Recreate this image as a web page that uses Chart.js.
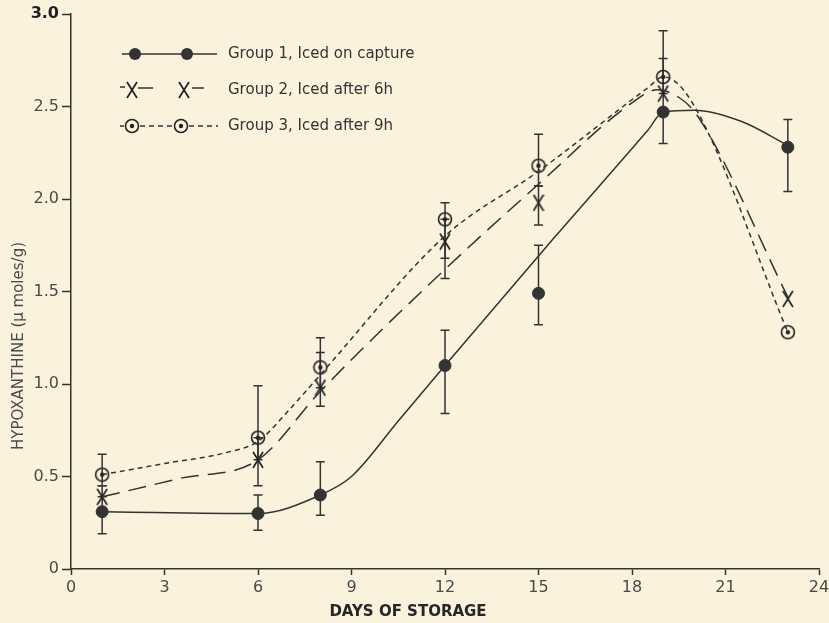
<!DOCTYPE html>
<html>
<head>
<meta charset="utf-8">
<script src="https://cdn.jsdelivr.net/npm/chart.js@4/dist/chart.umd.min.js"></script>
<style>
  html, body { margin: 0; padding: 0; background: #fbf2dd; }
  #wrap { width: 829px; height: 623px; }
</style>
</head>
<body>
<div id="wrap"><canvas id="chart" width="829" height="623"></canvas></div>
<script>
// ==========================
// DATA
// ==========================
const days = [1, 6, 8, 12, 15, 19, 23];
const xTicks = [0, 3, 6, 9, 12, 15, 18, 21, 24];

const group1 = [0.31, 0.30, 0.40, 1.10, 1.49, 2.47, 2.28];
const group1Up = [0.08, 0.10, 0.18, 0.19, 0.26, 0, 0.15];
const group1Down = [0.12, 0.09, 0.11, 0.26, 0.17, 0.17, 0.24];

const group2 = [0.39, 0.59, 0.98, 1.77, 1.98, 2.57, 1.46];
const group2Up = [0.06, 0.12, 0.19, 0.12, 0.09, 0.19, 0];
const group2Down = [0, 0.14, 0.10, 0.20, 0.12, 0.10, 0];

const group3 = [0.51, 0.71, 1.09, 1.89, 2.18, 2.66, 1.28];
const group3Up = [0.11, 0.28, 0.16, 0.09, 0.17, 0.25, 0];
const group3Down = [0.06, 0.12, 0.11, 0.21, 0.11, 0.09, 0];

// hand-drawn fitted curves (they do not pass exactly through the means)
const curve1Days = [1, 6, 8, 9, 10.5, 12, 15.5, 18.5, 19, 20, 21.5, 23];
const curve1 = [0.31, 0.30, 0.40, 0.50, 0.80, 1.10, 1.79, 2.37, 2.47, 2.48, 2.42, 2.29];
const curve2Days = [1, 3.5, 6, 8, 12, 15, 18, 18.8, 19.5, 20.1, 23];
const curve2 = [0.39, 0.49, 0.59, 0.96, 1.62, 2.08, 2.52, 2.59, 2.55, 2.45, 1.47];
const curve3Days = [1, 3, 5, 6, 7, 8, 12, 15, 18.5, 19, 19.9, 23];
const curve3 = [0.51, 0.57, 0.63, 0.69, 0.86, 1.05, 1.80, 2.15, 2.60, 2.66, 2.53, 1.28];

const legendLabels = ["Group 1, Iced on capture", "Group 2, Iced after 6h", "Group 3, Iced after 9h"];
const xTitle = "DAYS OF STORAGE";
const yTitle = "HYPOXANTHINE (\u03bc moles/g)";

// ==========================
// STYLE
// ==========================
const PAPER = "#fbf2dd";
const INK = "#333333";
const TEXT = "#4a4a4a";
const DASH_LONG = [18, 9];
const DASH_SHORT = [5, 4];

// marker canvases
function makeCross() {
    const c = document.createElement("canvas");
    c.width = 12; c.height = 18;
    const g = c.getContext("2d");
    g.strokeStyle = "#222"; g.lineWidth = 1.7;
    g.beginPath();
    g.moveTo(1, 1); g.lineTo(11, 17);
    g.moveTo(11, 1); g.lineTo(1, 17);
    g.stroke();
    return c;
}
function makeRing() {
    const c = document.createElement("canvas");
    c.width = 16; c.height = 16;
    const g = c.getContext("2d");
    g.strokeStyle = "#222"; g.fillStyle = "#222"; g.lineWidth = 1.6;
    g.beginPath(); g.arc(8, 8, 6.5, 0, Math.PI * 2); g.stroke();
    g.beginPath(); g.arc(8, 8, 2.2, 0, Math.PI * 2); g.fill();
    return c;
}
const crossImg = makeCross();
const ringImg = makeRing();

const pts = (xs, ys) => xs.map((x, i) => ({ x: x, y: ys[i] }));
const isTop = ctx => !!(ctx && ctx.tick && ctx.tick.value === 3);

// ==========================
// PLUGINS
// ==========================
const paperPlugin = {
    id: "paper",
    beforeDraw(chart) {
        const ctx = chart.ctx;
        ctx.save();
        ctx.fillStyle = PAPER;
        ctx.fillRect(0, 0, chart.width, chart.height);
        ctx.restore();
    }
};

const errorBars = [
    { v: group1, up: group1Up, down: group1Down },
    { v: group2, up: group2Up, down: group2Down },
    { v: group3, up: group3Up, down: group3Down }
];

const errorBarPlugin = {
    id: "errorBars",
    beforeDatasetsDraw(chart) {
        const ctx = chart.ctx;
        const xs = chart.scales.x, ys = chart.scales.y;
        ctx.save();
        ctx.strokeStyle = INK;
        ctx.lineWidth = 1.5;
        errorBars.forEach(g => {
            days.forEach((d, i) => {
                const px = xs.getPixelForValue(d);
                const top = ys.getPixelForValue(g.v[i] + g.up[i]);
                const bot = ys.getPixelForValue(g.v[i] - g.down[i]);
                ctx.beginPath();
                ctx.moveTo(px, top); ctx.lineTo(px, bot);
                if (g.up[i] > 0) { ctx.moveTo(px - 4.5, top); ctx.lineTo(px + 4.5, top); }
                if (g.down[i] > 0) { ctx.moveTo(px - 4.5, bot); ctx.lineTo(px + 4.5, bot); }
                ctx.stroke();
            });
        });
        ctx.restore();
    }
};

const legendPlugin = {
    id: "customLegend",
    afterDraw(chart) {
        const ctx = chart.ctx;
        ctx.save();
        ctx.strokeStyle = INK;
        ctx.fillStyle = INK;
        ctx.lineWidth = 1.5;

        // row 1
        let y = 54;
        ctx.beginPath(); ctx.moveTo(122, y); ctx.lineTo(217, y); ctx.stroke();
        [135, 187].forEach(cx => { ctx.beginPath(); ctx.arc(cx, y, 6, 0, Math.PI * 2); ctx.fill(); });

        // row 2
        y = 90;
        ctx.beginPath();
        ctx.moveTo(120, y - 3); ctx.lineTo(125, y - 3);
        ctx.moveTo(138, y - 2); ctx.lineTo(153, y - 2);
        ctx.moveTo(192, y - 2); ctx.lineTo(204, y - 2);
        ctx.stroke();
        ctx.drawImage(crossImg, 126, y - 9);
        ctx.drawImage(crossImg, 178, y - 9);

        // row 3
        y = 126;
        ctx.setLineDash(DASH_SHORT);
        ctx.beginPath();
        ctx.moveTo(120, y); ctx.lineTo(124, y);
        ctx.moveTo(140, y); ctx.lineTo(173, y);
        ctx.moveTo(189, y); ctx.lineTo(218, y);
        ctx.stroke();
        ctx.setLineDash([]);
        ctx.drawImage(ringImg, 124, y - 8);
        ctx.drawImage(ringImg, 173, y - 8);

        // labels
        ctx.fillStyle = "#333";
        ctx.font = "15px 'DejaVu Sans'";
        ctx.textBaseline = "middle";
        ctx.textAlign = "left";
        legendLabels.forEach((t, i) => ctx.fillText(t, 228, [54, 90, 126][i]));

        // axis titles
        ctx.fillStyle = "#262626";
        ctx.font = "bold 15px 'DejaVu Sans'";
        ctx.textAlign = "center";
        ctx.fillText(xTitle, 408, 612);

        ctx.fillStyle = TEXT;
        ctx.font = "15px 'DejaVu Sans'";
        ctx.translate(19, 346);
        ctx.rotate(-Math.PI / 2);
        ctx.fillText(yTitle, 0, 0);
        ctx.restore();
    }
};

// ==========================
// CHART
// ==========================
const lineStyle = (dash) => ({
    borderColor: INK,
    borderWidth: 1.5,
    borderDash: dash,
    pointRadius: 0,
    fill: false,
    cubicInterpolationMode: "monotone"
});

new Chart(document.getElementById("chart"), {
    type: "line",
    data: {
        datasets: [
            { label: "Group 1 curve", data: pts(curve1Days, curve1), ...lineStyle([]) },
            { label: "Group 2 curve", data: pts(curve2Days, curve2), ...lineStyle(DASH_LONG) },
            { label: "Group 3 curve", data: pts(curve3Days, curve3), ...lineStyle(DASH_SHORT) },
            {
                label: legendLabels[0], data: pts(days, group1), showLine: false,
                pointStyle: "circle", pointRadius: 6, pointBackgroundColor: INK, pointBorderColor: INK
            },
            {
                label: legendLabels[1], data: pts(days, group2), showLine: false,
                pointStyle: crossImg, pointRadius: 8
            },
            {
                label: legendLabels[2], data: pts(days, group3), showLine: false,
                pointStyle: ringImg, pointRadius: 8
            }
        ]
    },
    options: {
        responsive: false,
        animation: false,
        layout: { padding: { top: 14, right: 10, left: 0, bottom: 0 } },
        plugins: {
            legend: { display: false },
            tooltip: { enabled: false }
        },
        scales: {
            x: {
                type: "linear",
                min: 0,
                max: 24,
                afterBuildTicks: s => { s.ticks = xTicks.map(v => ({ value: v })); },
                ticks: { color: TEXT, font: { family: "DejaVu Sans", size: 16 }, padding: 3 },
                grid: { drawOnChartArea: false, drawTicks: true, tickLength: 6, tickColor: INK, tickWidth: 1.5 },
                border: { display: true, color: INK, width: 1.5 },
                afterFit: s => { s.height = 54; s.paddingRight = 0; s.paddingLeft = 0; }
            },
            y: {
                min: 0,
                max: 3,
                ticks: {
                    stepSize: 0.5,
                    color: ctx => isTop(ctx) ? "#1e1e1e" : TEXT,
                    font: ctx => ({ family: "DejaVu Sans", size: 16, weight: isTop(ctx) ? "bold" : "normal" }),
                    padding: 3,
                    callback: v => v === 0 ? "0" : v.toFixed(1)
                },
                grid: { drawOnChartArea: false, drawTicks: true, tickLength: 9, tickColor: INK, tickWidth: 1.5 },
                border: { display: true, color: INK, width: 1.5 },
                afterFit: s => { s.width = 71; }
            }
        }
    },
    plugins: [paperPlugin, errorBarPlugin, legendPlugin]
});
</script>
</body>
</html>
